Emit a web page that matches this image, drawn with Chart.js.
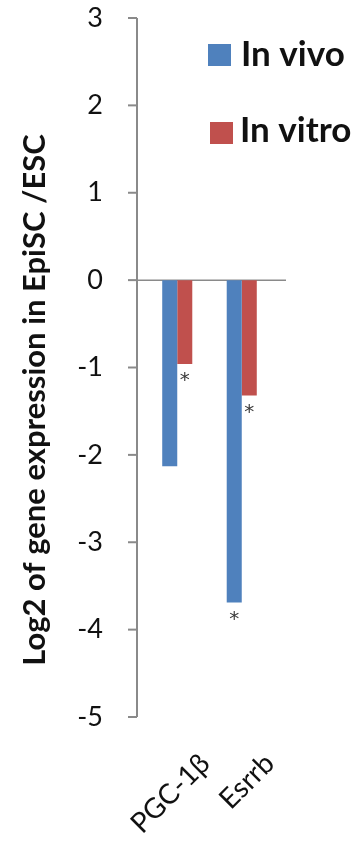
<!DOCTYPE html>
<html>
<head>
<meta charset="utf-8">
<script src="https://cdn.jsdelivr.net/npm/chart.js@4/dist/chart.umd.min.js"></script>
<style>
  html, body { margin: 0; padding: 0; background: #fff; }
  #wrap { width: 364px; height: 846px; }
</style>
</head>
<body>
<div id="wrap"><canvas id="c" width="364" height="846"></canvas></div>
<script>
// Genes and log2 fold change (EpiSC / ESC)
const genes = ['PGC-1β', 'Esrrb'];
const seriesNames = ['In vivo', 'In vitro'];
const inVivo = [-2.13, -3.69];
const inVitro = [-0.96, -1.32];
// significance markers (*) per bar
const inVivoSig = [false, true];
const inVitroSig = [true, true];
const yTickValues = [3, 2, 1, 0, -1, -2, -3, -4, -5];
const yTitle = 'Log2 of gene expression in EpiSC /ESC';

const BLUE = '#4F81BD';
const RED = '#C0504D';
const AXIS = '#8a8a8a';

// Axis lines drawn slightly outside the plot area, like the original layout
const axisLines = {
  id: 'axisLines',
  beforeDatasetsDraw(chart) {
    const { ctx } = chart;
    const y = chart.scales.y;
    const axisX = 137, axisEnd = 286;
    ctx.save();
    ctx.strokeStyle = AXIS;
    ctx.lineWidth = 2;
    ctx.beginPath();
    ctx.moveTo(axisX, y.getPixelForValue(yTickValues[0]));
    ctx.lineTo(axisX, y.getPixelForValue(yTickValues[yTickValues.length - 1]));
    ctx.stroke();
    yTickValues.forEach(v => {
      const py = y.getPixelForValue(v);
      ctx.beginPath();
      ctx.moveTo(axisX - 9, py);
      ctx.lineTo(axisX, py);
      ctx.stroke();
    });
    ctx.lineWidth = 1.5;
    const y0 = y.getPixelForValue(0);
    ctx.beginPath();
    ctx.moveTo(axisX, y0);
    ctx.lineTo(axisEnd, y0);
    ctx.stroke();
    ctx.restore();
  }
};

// Asterisks under significant bars, legend and rotated y title
const annotations = {
  id: 'annotations',
  afterDraw(chart) {
    const { ctx } = chart;
    const sigs = [inVivoSig, inVitroSig];
    ctx.save();
    ctx.fillStyle = '#3a3a3a';
    ctx.font = '20px "DejaVu Sans", sans-serif';
    ctx.textAlign = 'center';
    ctx.textBaseline = 'middle';
    chart.data.datasets.forEach((ds, i) => {
      const meta = chart.getDatasetMeta(i);
      meta.data.forEach((bar, j) => {
        if (sigs[i][j]) ctx.fillText('*', bar.x, bar.y + 17);
      });
    });

    // legend
    const items = [
      { box: [208, 44], text: [241, 66] },
      { box: [210, 122], text: [240, 142] }
    ];
    ctx.textAlign = 'left';
    ctx.textBaseline = 'alphabetic';
    ctx.font = 'bold 35px Lato, "Liberation Sans", sans-serif';
    chart.data.datasets.forEach((ds, i) => {
      const it = items[i];
      ctx.fillStyle = ds.backgroundColor;
      ctx.fillRect(it.box[0], it.box[1], 23, 22);
      ctx.fillStyle = '#111';
      ctx.fillText(ds.label, it.text[0], it.text[1]);
    });

    // y axis title
    ctx.translate(35, 400);
    ctx.rotate(-Math.PI / 2);
    ctx.textAlign = 'center';
    ctx.textBaseline = 'middle';
    ctx.font = 'bold 31px Lato, "Liberation Sans", sans-serif';
    ctx.fillStyle = '#111';
    ctx.fillText(yTitle, 0, 0);
    ctx.restore();
  }
};

new Chart(document.getElementById('c'), {
  type: 'bar',
  data: {
    labels: genes,
    datasets: [
      { label: seriesNames[0], data: inVivo, backgroundColor: BLUE },
      { label: seriesNames[1], data: inVitro, backgroundColor: RED }
    ]
  },
  options: {
    responsive: false,
    animation: false,
    devicePixelRatio: 1,
    layout: { padding: { top: 18, right: 90, left: 0, bottom: 0 } },
    datasets: { bar: { categoryPercentage: 0.466, barPercentage: 1.0 } },
    plugins: { legend: { display: false }, tooltip: { enabled: false } },
    scales: {
      x: {
        grid: { display: false },
        border: { display: false },
        afterFit(scale) {
          scale.height = 129;
          scale.paddingLeft = 0; scale.paddingRight = 0;
          scale.paddingTop = 0; scale.paddingBottom = 0;
        },
        ticks: {
          minRotation: 45, maxRotation: 45, autoSkip: false,
          padding: 22, labelOffset: 28,
          color: '#111',
          font: { family: 'Lato, "Liberation Sans", sans-serif', size: 28 }
        }
      },
      y: {
        min: -5, max: 3,
        afterFit(scale) {
          scale.width = 145;
          scale.paddingTop = 0; scale.paddingBottom = 0;
        },
        afterBuildTicks(scale) { scale.ticks = yTickValues.map(v => ({ value: v })); },
        grid: { display: false },
        border: { display: false },
        ticks: {
          padding: 34,
          color: '#111',
          font: { family: 'Lato, "Liberation Sans", sans-serif', size: 27 }
        }
      }
    }
  },
  plugins: [axisLines, annotations]
});
</script>
</body>
</html>
